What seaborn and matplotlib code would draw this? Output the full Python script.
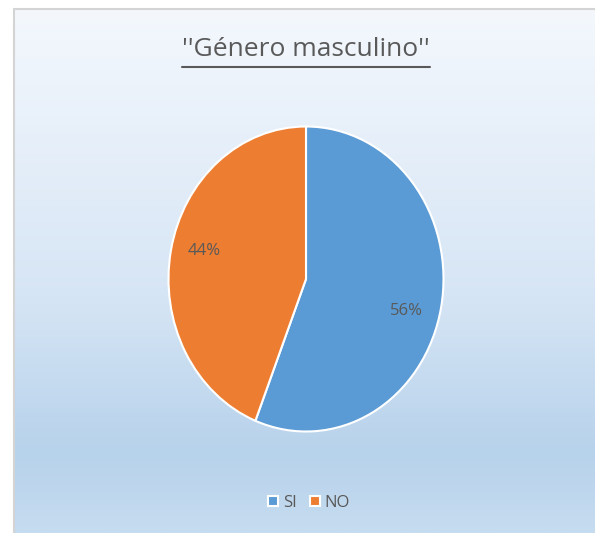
import numpy as np
import matplotlib
matplotlib.use("Agg")
import matplotlib.pyplot as plt
import seaborn as sns
from matplotlib.patches import Rectangle
from matplotlib.lines import Line2D
from matplotlib.colors import LinearSegmentedColormap

categories = ["SI", "NO"]
values = [56, 44]
colors = ["#5B9BD5", "#ED7D31"]
title = "''Género masculino''"

sns.set_style("white")
plt.rcParams["font.family"] = ["Open Sans", "DejaVu Sans"]
text_col = "#595959"

W, H = 595, 533
fig = plt.figure(figsize=(W / 100, H / 100), dpi=100)

# fondo con degradado
bg = fig.add_axes([0, 0, 1, 1])
bg.set_axis_off()
cmap = LinearSegmentedColormap.from_list(
    "bg", [(0, "#F4F8FD"), (0.55, "#D6E5F5"), (0.85, "#B7D2EB"), (1, "#C6DCF0")])
grad = np.linspace(0, 1, 256).reshape(-1, 1)
x0, y0 = 14 / W, 1 - 9 / H
bg.imshow(grad, aspect="auto", cmap=cmap, extent=[x0, 1, 0, y0], origin="upper")
bg.set_xlim(0, 1)
bg.set_ylim(0, 1)
bg.add_patch(Rectangle((x0, -0.01), 1.02 - x0, y0 + 0.01, fill=False,
                       edgecolor="#D4D4D4", linewidth=1.5))

# pastel
cx, cy, rx, ry = 306, 279, 137.5, 152.5
ax = fig.add_axes([(cx - rx) / W, 1 - (cy + ry) / H, 2 * rx / W, 2 * ry / H])
wedges, texts, autotexts = ax.pie(
    values, colors=colors, startangle=90, counterclock=False,
    autopct="%1.0f%%", pctdistance=0.76,
    wedgeprops=dict(edgecolor="white", linewidth=1.5),
    textprops=dict(color=text_col, fontsize=12))
ax.set_aspect("auto")
ax.set_xlim(-1, 1)
ax.set_ylim(-1, 1)
ax.set_axis_off()
# etiquetas colocadas como "ajuste perfecto"
for txt, ang in zip(autotexts, [-16, 166]):
    a = np.deg2rad(ang)
    txt.set_position((0.76 * np.cos(a), 0.76 * np.sin(a)))

# título subrayado
t = fig.text(cx / W, 1 - 50 / H, title, ha="center", va="center",
             fontsize=19, color=text_col)
fig.canvas.draw()
bb = t.get_window_extent().transformed(fig.transFigure.inverted())
uy = bb.y0 - 4 / H
fig.add_artist(Line2D([bb.x0, bb.x1], [uy, uy],
                      color=text_col, linewidth=1.5, transform=fig.transFigure))

handles = [Rectangle((0, 0), 1, 1, facecolor=c, edgecolor="white", linewidth=1.5)
           for c in colors]
fig.legend(handles, categories, loc="center", bbox_to_anchor=(309 / W, 1 - 503 / H),
           ncol=2, frameon=False, fontsize=12, labelcolor=text_col,
           handlelength=0.6, handleheight=0.6, handletextpad=0.3, columnspacing=0.8)

fig.savefig("out.png", dpi=100)
